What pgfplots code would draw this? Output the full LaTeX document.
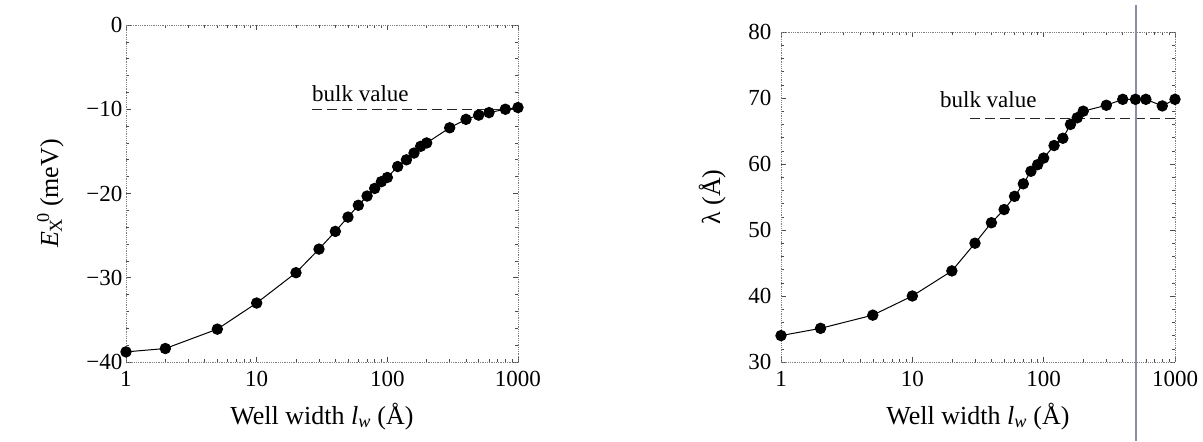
\documentclass[border=0pt]{standalone}
\usepackage{fontspec}
\setmainfont{Liberation Serif}
\usepackage{pgfplots}
\pgfplotsset{compat=1.18}
\definecolor{scanline}{RGB}{135,142,172}
\pgfplotstableread{
x y
1 -38.8
2 -38.4
5 -36.1
10 -33.0
20 -29.4
30 -26.6
40 -24.5
50 -22.8
60 -21.4
70 -20.3
80 -19.4
90 -18.6
100 -18.1
120 -16.8
140 -16.0
160 -15.2
180 -14.4
200 -14.0
300 -12.2
400 -11.2
500 -10.7
600 -10.4
800 -10.0
1000 -9.8
}\leftdata
\pgfplotstableread{
x y
1 34.0
2 35.1
5 37.1
10 40.0
20 43.8
30 48.0
40 51.1
50 53.1
60 55.1
70 57.0
80 58.9
90 59.9
100 60.9
120 62.8
140 63.9
160 66.0
180 67.0
200 68.0
300 68.9
400 69.8
500 69.8
600 69.8
800 68.8
1000 69.8
}\rightdata
\begin{document}
\begin{tikzpicture}
\path (0,0) rectangle (1203pt,441pt);
\begin{axis}[scale only axis, anchor=south west, xmode=log, xmin=1, xmax=1000,
  /pgf/number format/assume math mode=true,
  xtick={1,10,100,1000}, xticklabels={1,10,100,1000},
  tick style={gray!60!black, line width=0.6pt},
  major tick length=5pt, minor tick length=3pt,
  x axis line style={line width=1.3pt, black!80},
  y axis line style={line width=0.8pt, gray, densely dotted},
  ticklabel style={font=\fontsize{23}{27}\selectfont},
  xticklabel style={yshift=-6pt},
  xlabel style={font=\fontsize{26}{30}\selectfont, yshift=-9pt},
  ylabel style={font=\fontsize{26}{30}\selectfont, yshift=16pt},
  minor y tick num=4, clip=false,
  at={(126pt,79pt)}, width=392pt, height=337pt,
  ymin=-40, ymax=0, ytick={-40,-30,-20,-10,0},
  yticklabels={−40,−30,−20,−10,0},
  xlabel={Well width \textit{l}\textsubscript{\textit{w}} (Å)},
  ylabel={\textit{E}\rlap{\textsubscript{X}}\hspace{0.35em}\textsuperscript{0} (meV)}]
\addplot[black!85, line width=1pt, dash pattern=on 10pt off 5pt] coordinates {(26.5,-10) (1000,-10)};
\addplot[black, line width=1pt, mark=*, mark size=5.2pt, mark options={fill=black}] table[x=x,y=y] {\leftdata};
\node[anchor=west, font=\fontsize{23}{27}\selectfont] at (axis cs:25,-8.1) {bulk value};
\end{axis}
\begin{axis}[scale only axis, anchor=south west, xmode=log, xmin=1, xmax=1000,
  /pgf/number format/assume math mode=true,
  xtick={1,10,100,1000}, xticklabels={1,10,100,1000},
  tick style={gray!60!black, line width=0.6pt},
  major tick length=5pt, minor tick length=3pt,
  x axis line style={line width=1.3pt, black!80},
  y axis line style={line width=0.8pt, gray, densely dotted},
  ticklabel style={font=\fontsize{23}{27}\selectfont},
  xticklabel style={yshift=-6pt},
  yticklabel style={xshift=-6pt},
  xlabel style={font=\fontsize{26}{30}\selectfont, yshift=-9pt},
  ylabel style={font=\fontsize{26}{30}\selectfont, yshift=16pt},
  minor y tick num=4, clip=false,
  at={(781pt,79pt)}, width=394pt, height=330pt,
  ymin=30, ymax=80, ytick={30,40,50,60,70,80},
  yticklabels={30,40,50,60,70,80},
  xlabel={Well width \textit{l}\textsubscript{\textit{w}} (Å)},
  ylabel={λ (Å)}]
\addplot[black!85, line width=1pt, dash pattern=on 10pt off 5pt] coordinates {(27.7,66.9) (1000,66.9)};
\addplot[black, line width=1pt, mark=*, mark size=5.2pt, mark options={fill=black}] table[x=x,y=y] {\rightdata};
\node[anchor=west, font=\fontsize{23}{27}\selectfont] at (axis cs:15.3,69.8) {bulk value};
\addplot[scanline, line width=1.6pt, mark=none] coordinates {(506,84.1) (506,18)};
\end{axis}
\end{tikzpicture}
\end{document}
